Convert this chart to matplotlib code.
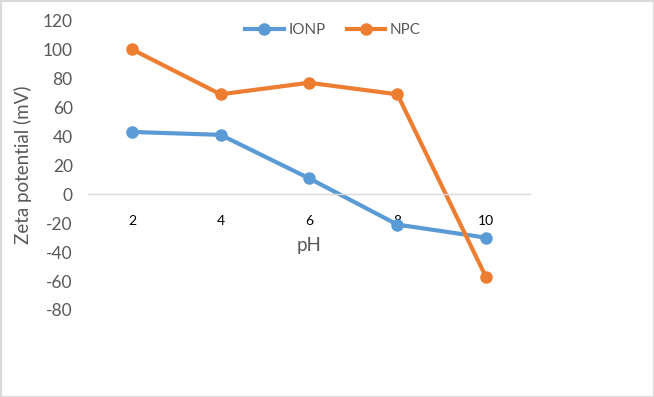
import matplotlib.pyplot as plt
from matplotlib.patches import Rectangle

ph = ["2", "4", "6", "8", "10"]
ionp = [43, 41, 11, -21, -30]
npc = [100, 69, 77, 69, -57]
y_ticks = [-80, -60, -40, -20, 0, 20, 40, 60, 80, 100, 120]

plt.rcParams['font.family'] = ['Lato', 'DejaVu Sans']
grey = '#595959'

fig = plt.figure(figsize=(6.54, 3.97), dpi=100)
W, H = 654, 397
ax = fig.add_axes([88 / W, 1 - 310 / H, (530 - 88) / W, (310 - 20.5) / H])

x = range(len(ph))
ax.plot(x, ionp, 'o-', color='#5b9bd5', lw=3, ms=8, label='IONP', clip_on=False)
ax.plot(x, npc, 'o-', color='#ed7d31', lw=3, ms=8, label='NPC', clip_on=False)

ax.set_xlim(-0.5, len(ph) - 0.5)
ax.set_ylim(-80, 120)
ax.set_yticks(y_ticks)
ax.set_yticklabels([str(v) for v in y_ticks], fontsize=12.5, color=grey)
ax.set_xticks(list(x))
ax.set_xticklabels(ph, fontsize=12.5, color=grey)

for s in ['top', 'right', 'left']:
    ax.spines[s].set_visible(False)
ax.spines['bottom'].set_position(('data', 0))
ax.spines['bottom'].set_color('#d9d9d9')
ax.spines['bottom'].set_linewidth(1)
ax.tick_params(length=0)
ax.tick_params(axis='x', pad=15)
ax.tick_params(axis='y', pad=11)

ax.set_xlabel('pH', fontsize=13.5, color=grey, labelpad=7)
ax.set_ylabel('Zeta potential (mV)', fontsize=13.5, color=grey, labelpad=8)

ax.legend(loc='center', bbox_to_anchor=(333 / W, 1 - 30 / H), bbox_transform=fig.transFigure,
          ncol=2, frameon=False, fontsize=11, labelcolor=grey, handlelength=2.5,
          columnspacing=1.4, handletextpad=0.3)

fig.patches.append(Rectangle((0.5 / W, 0.5 / H), 1 - 1 / W, 1 - 1 / H, transform=fig.transFigure,
                             fill=False, edgecolor='#d9d9d9', lw=1.5))

fig.savefig('out.png', dpi=100)
